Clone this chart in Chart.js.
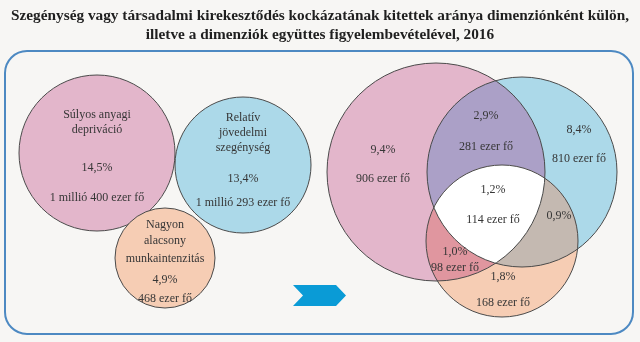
<!DOCTYPE html>
<html>
<head>
<meta charset="utf-8">
<title>Szegénység vagy társadalmi kirekesztődés</title>
<script src="https://cdn.jsdelivr.net/npm/chart.js@4/dist/chart.umd.min.js"></script>
<style>
  html, body { margin: 0; padding: 0; background: #f7f6f4; }
  #wrap { width: 640px; height: 342px; }
</style>
</head>
<body>
<div id="wrap"><canvas id="venn" width="640" height="342"></canvas></div>
<script>
// separate dimensions (left side)
var leftNames = [['Súlyos anyagi', 'depriváció'], ['Relatív', 'jövedelmi', 'szegénység'], ['Nagyon', 'alacsony', 'munkaintenzitás']];
var leftShare = [14.5, 13.4, 4.9];
var leftPeople = ['1 millió 400 ezer fő', '1 millió 293 ezer fő', '468 ezer fő'];

// combined view (right side): only pink, only blue, only orange, pink+blue, pink+orange, blue+orange, all three
var rightShare = [9.4, 8.4, 1.8, 2.9, 1.0, 0.9, 1.2];
var rightPeople = [906, 810, 168, 281, 98, null, 114];

var title = ['Szegénység vagy társadalmi kirekesztődés kockázatának kitettek aránya dimenziónként külön,',
             'illetve a dimenziók együttes figyelembevételével, 2016'];

// layout in page units (x, y, radius)
var leftCircles = [[97, 153, 78], [243, 165, 68], [165, 258, 50]];
var rightCircles = [[436, 172, 109], [522, 172, 95], [502, 241, 76]];

// label anchors: left groups get one y per line, right regions get [x, yPct, yPeople]
var leftLabelPos = [
    {x: 97, lines: [115, 130], pct: 168, ppl: 198},
    {x: 243, lines: [118, 133, 148], pct: 179, ppl: 203},
    {x: 165, lines: [225, 241, 259], pct: 280, ppl: 299}
];
var rightLabelPos = [[383, 150, 179], [579, 130, 159], [503, 277, 303], [486, 116, 147], [455, 252, 268], [559, 216, null], [493, 190, 220]];

var fills = ['#e3b6cb', '#acd9e9', '#f6cdb4'];
var overlapFills = {pb: '#aba0c7', po: '#e0969f', bo: '#c4b9b1', all: '#ffffff'};
var textColor = '#363636';
var serif = '"Liberation Serif", "DejaVu Serif", serif';

function pct(v) { return v.toFixed(1).replace('.', ',') + '%'; }

function toPoints(list) {
    return list.map(function (c) { return {x: c[0], y: c[1], rr: c[2]}; });
}

// radius given in x units, turned into pixels by the x scale
function radiusFromScale(ctx) {
    var s = ctx.chart.scales.x;
    if (!ctx.raw) return 0;
    return s.getPixelForValue(ctx.raw.rr) - s.getPixelForValue(0);
}

function circlePath(ctx, el) {
    ctx.beginPath();
    ctx.arc(el.x, el.y, el.options.radius, 0, Math.PI * 2);
}

function fillLens(ctx, a, b, color) {
    ctx.save();
    circlePath(ctx, a);
    ctx.clip();
    circlePath(ctx, b);
    ctx.fillStyle = color;
    ctx.fill();
    ctx.restore();
}

var framePlugin = {
    id: 'frame',
    beforeDatasetsDraw: function (chart) {
        var ctx = chart.ctx, x = chart.scales.x, y = chart.scales.y;
        var l = x.getPixelForValue(5), r = x.getPixelForValue(633);
        var t = y.getPixelForValue(51), b = y.getPixelForValue(334);
        ctx.save();
        ctx.beginPath();
        ctx.roundRect(l, t, r - l, b - t, 22);
        ctx.lineWidth = 2;
        ctx.strokeStyle = '#4d89c2';
        ctx.stroke();

        // title
        ctx.fillStyle = '#1f1f1f';
        ctx.font = 'bold 15.3px ' + serif;
        ctx.textAlign = 'center';
        ctx.textBaseline = 'middle';
        ctx.fillText(title[0], x.getPixelForValue(320), y.getPixelForValue(16));
        ctx.fillText(title[1], x.getPixelForValue(320), y.getPixelForValue(35));

        // arrow between the two views
        var pts = [[293, 285], [336, 285], [346, 295.5], [336, 306], [293, 306], [303, 295.5]];
        ctx.beginPath();
        pts.forEach(function (p, i) {
            var px = x.getPixelForValue(p[0]), py = y.getPixelForValue(p[1]);
            if (i === 0) ctx.moveTo(px, py); else ctx.lineTo(px, py);
        });
        ctx.closePath();
        ctx.fillStyle = '#0a9bd6';
        ctx.fill();
        ctx.restore();
    }
};

var vennPlugin = {
    id: 'vennOverlaps',
    afterDatasetsDraw: function (chart) {
        var ctx = chart.ctx, x = chart.scales.x, y = chart.scales.y;
        var el = chart.getDatasetMeta(1).data;
        fillLens(ctx, el[0], el[1], overlapFills.pb);
        fillLens(ctx, el[0], el[2], overlapFills.po);
        fillLens(ctx, el[1], el[2], overlapFills.bo);
        ctx.save();
        circlePath(ctx, el[0]);
        ctx.clip();
        fillLens(ctx, el[1], el[2], overlapFills.all);
        ctx.restore();

        ctx.save();
        ctx.lineWidth = 1;
        ctx.strokeStyle = '#4a4a4a';
        el.forEach(function (e) { circlePath(ctx, e); ctx.stroke(); });

        ctx.fillStyle = textColor;
        ctx.font = '12px ' + serif;
        ctx.textAlign = 'center';
        ctx.textBaseline = 'middle';

        leftLabelPos.forEach(function (p, i) {
            var px = x.getPixelForValue(p.x);
            leftNames[i].forEach(function (line, j) {
                ctx.fillText(line, px, y.getPixelForValue(p.lines[j]));
            });
            ctx.fillText(pct(leftShare[i]), px, y.getPixelForValue(p.pct));
            ctx.fillText(leftPeople[i], px, y.getPixelForValue(p.ppl));
        });

        rightLabelPos.forEach(function (p, i) {
            var px = x.getPixelForValue(p[0]);
            ctx.fillText(pct(rightShare[i]), px, y.getPixelForValue(p[1]));
            if (rightPeople[i] !== null) {
                ctx.fillText(rightPeople[i] + ' ezer fő', px, y.getPixelForValue(p[2]));
            }
        });
        ctx.restore();
    }
};

new Chart(document.getElementById('venn'), {
    type: 'scatter',
    data: {
        datasets: [
            {
                label: 'külön',
                data: toPoints(leftCircles),
                backgroundColor: fills,
                borderColor: '#4a4a4a',
                borderWidth: 1,
                pointRadius: radiusFromScale
            },
            {
                label: 'együtt',
                data: toPoints(rightCircles),
                backgroundColor: fills,
                borderWidth: 0,
                pointRadius: radiusFromScale
            }
        ]
    },
    options: {
        responsive: false,
        animation: false,
        events: [],
        clip: false,
        layout: { padding: 0 },
        plugins: {
            legend: { display: false },
            tooltip: { enabled: false },
            title: { display: false }
        },
        scales: {
            x: { type: 'linear', min: 0, max: 640, display: false },
            y: { type: 'linear', min: 0, max: 342, reverse: true, display: false }
        }
    },
    plugins: [framePlugin, vennPlugin]
});
</script>
</body>
</html>
